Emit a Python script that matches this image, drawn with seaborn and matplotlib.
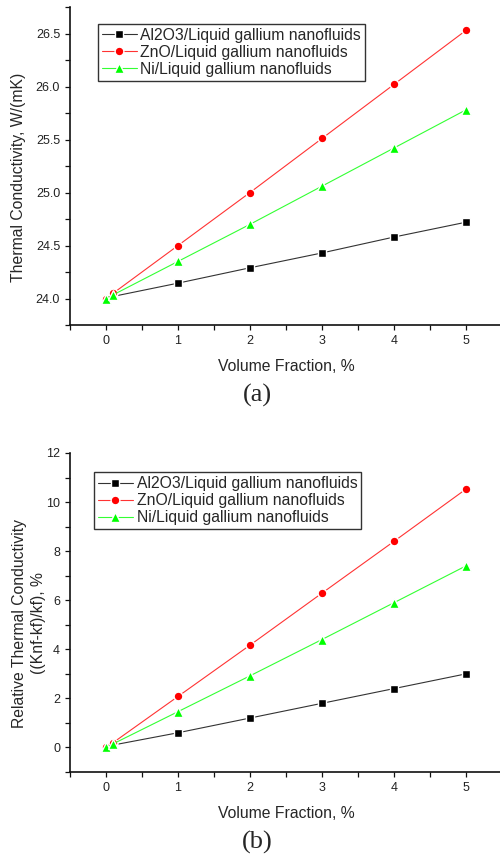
"""Thermal conductivity of liquid gallium nanofluids vs volume fraction."""

import matplotlib

matplotlib.use("Agg")

import matplotlib.pyplot as plt
import seaborn as sns
from matplotlib.ticker import FormatStrFormatter, MultipleLocator

# volume fraction, %
vol_frac = [0, 0.1, 1, 2, 3, 4, 5]

series_names = [
    "Al2O3/Liquid gallium nanofluids",
    "ZnO/Liquid gallium nanofluids",
    "Ni/Liquid gallium nanofluids",
]

# (a) thermal conductivity, W/(mK)
k_al2o3 = [24.0, 24.02, 24.145, 24.29, 24.43, 24.58, 24.72]
k_zno = [24.0, 24.05, 24.50, 25.00, 25.51, 26.02, 26.53]
k_ni = [24.0, 24.035, 24.35, 24.70, 25.06, 25.42, 25.78]

# (b) relative thermal conductivity, %
rel_al2o3 = [0.0, 0.1, 0.6, 1.2, 1.8, 2.4, 3.0]
rel_zno = [0.0, 0.2, 2.08, 4.17, 6.29, 8.40, 10.53]
rel_ni = [0.0, 0.15, 1.46, 2.92, 4.40, 5.90, 7.40]

colors = ["#000000", "#ff0000", "#00ff00"]
line_colors = ["#333333", "#ff3333", "#33ff33"]
markers = ["s", "o", "^"]
marker_sizes = [5.6, 6.3, 7.4]

sns.set_style("ticks")
plt.rcParams["font.family"] = ["Liberation Sans", "DejaVu Sans"]

LABEL_FS = 11.3
TICK_FS = 9


def draw_panel(ax, ys, ylabel, ylim, ymajor, yminor, yfmt, legend_anchor):
    for vals, name, c, lc, m, ms in zip(ys, series_names, colors, line_colors,
                                        markers, marker_sizes):
        sns.lineplot(
            x=vol_frac,
            y=vals,
            ax=ax,
            color=lc,
            marker=m,
            markersize=ms,
            markerfacecolor=c,
            markeredgecolor="white",
            markeredgewidth=1.0,
            linewidth=0.8,
            label=name,
        )
    ax.set_xlim(-0.5, 5.5)
    ax.set_ylim(*ylim)
    ax.xaxis.set_major_locator(MultipleLocator(1))
    ax.xaxis.set_minor_locator(MultipleLocator(0.5))
    ax.yaxis.set_major_locator(MultipleLocator(ymajor))
    ax.yaxis.set_minor_locator(MultipleLocator(yminor))
    ax.yaxis.set_major_formatter(FormatStrFormatter(yfmt))
    ax.tick_params(which="both", direction="out", length=3.6, width=0.9,
                   color="#111111")
    ax.tick_params(which="major", labelsize=TICK_FS, labelcolor="#222222")
    ax.tick_params(axis="x", pad=3.5)
    ax.tick_params(axis="y", pad=3.5)
    for side in ("top", "right"):
        ax.spines[side].set_visible(False)
    for side in ("left", "bottom"):
        ax.spines[side].set_linewidth(1.2)
        ax.spines[side].set_color("#111111")

    ax.set_xlabel("Volume Fraction, %", fontsize=LABEL_FS, va="center")
    ax.xaxis.set_label_coords(0.5, -41 / 318)
    ax.set_ylabel(ylabel, fontsize=LABEL_FS, va="center", linespacing=1.3)

    leg = ax.legend(
        loc="upper left",
        bbox_to_anchor=legend_anchor,
        borderaxespad=0,
        fontsize=LABEL_FS,
        frameon=True,
        fancybox=False,
        handlelength=2.2,
        handletextpad=0.25,
        labelspacing=0.13,
        borderpad=0.25,
    )
    frame = leg.get_frame()
    frame.set_edgecolor("#333333")
    frame.set_linewidth(1.0)
    frame.set_alpha(1)


fig = plt.figure(figsize=(5, 8.56), dpi=100)

ax_a = fig.add_axes([0.14, 0.6203, 0.864, 0.3715])
draw_panel(
    ax_a,
    [k_al2o3, k_zno, k_ni],
    "Thermal Conductivity, W/(mK)",
    (23.75, 26.75),
    0.5,
    0.25,
    "%.1f",
    (0.065, 0.947),
)
ax_a.yaxis.set_label_coords(-0.120, 0.465)

ax_b = fig.add_axes([0.14, 0.0981, 0.864, 0.3727])
draw_panel(
    ax_b,
    [rel_al2o3, rel_zno, rel_ni],
    "Relative Thermal Conductivity\n((Knf-kf)/kf), %",
    (-1, 12),
    2,
    1,
    "%d",
    (0.056, 0.940),
)
ax_b.yaxis.set_label_coords(-0.095, 0.467)

fig.text(0.514, 1 - 395 / 856, "(a)", ha="center", va="center",
         fontsize=19, family=["Liberation Serif", "DejaVu Serif"])
fig.text(0.514, 1 - 842 / 856, "(b)", ha="center", va="center",
         fontsize=19, family=["Liberation Serif", "DejaVu Serif"])

fig.savefig("out.png", dpi=100)
plt.close(fig)
